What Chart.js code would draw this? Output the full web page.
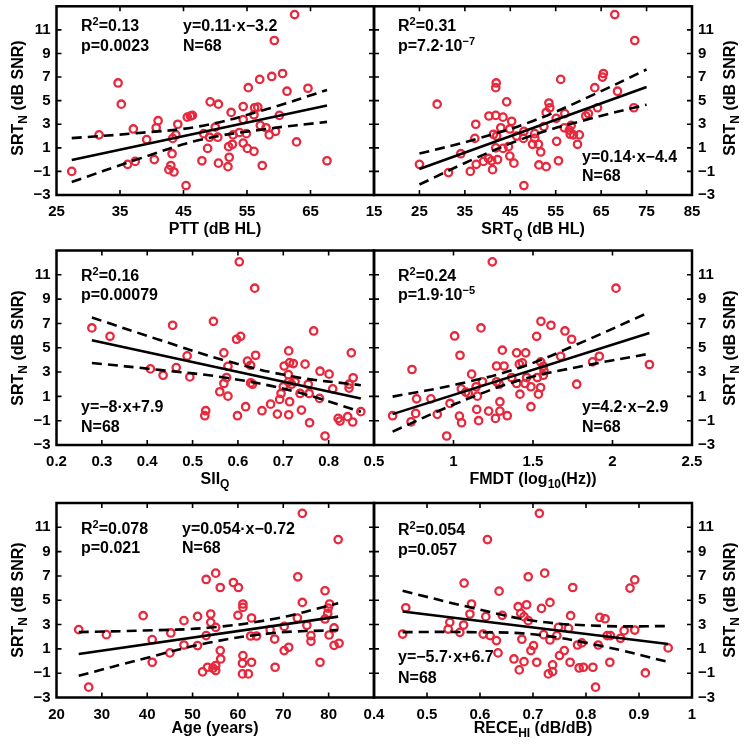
<!DOCTYPE html>
<html><head><meta charset="utf-8">
<script src="https://cdn.jsdelivr.net/npm/chart.js@4.4.0/dist/chart.umd.min.js"></script>
<style>
html,body{margin:0;padding:0;background:#fff;}
#wrap{position:relative;width:746px;height:749px;overflow:hidden;font-family:"Liberation Sans",Arial,Helvetica,sans-serif;font-weight:bold;color:#000;}
canvas{position:absolute;left:0;top:0;}
.t{position:absolute;white-space:nowrap;font-size:16px;line-height:16px;}
.ax{position:absolute;white-space:nowrap;font-size:16px;line-height:16px;transform:translate(-50%,0);}
.ay{position:absolute;white-space:nowrap;font-size:16px;line-height:16px;transform:translate(-50%,-50%) rotate(-90deg);}
sup{font-size:11px;position:relative;top:-6px;vertical-align:baseline;line-height:0;}
sub{font-size:12px;position:relative;top:4px;vertical-align:baseline;line-height:0;}
</style>
</head><body>
<div id="wrap">
<canvas id="c1" width="746" height="749"></canvas>
<canvas id="c2" width="746" height="749"></canvas>
<canvas id="c3" width="746" height="749"></canvas>
<canvas id="c4" width="746" height="749"></canvas>
<canvas id="c5" width="746" height="749"></canvas>
<canvas id="c6" width="746" height="749"></canvas>

<div class="t" style="left:81px;top:18.2px">R<sup>2</sup>=0.13</div>
<div class="t" style="left:81px;top:37.7px">p=0.0023</div>
<div class="t" style="left:183px;top:18.2px">y=0.11·x−3.2</div>
<div class="t" style="left:183px;top:37.7px">N=68</div>

<div class="t" style="left:398px;top:18.2px">R<sup>2</sup>=0.31</div>
<div class="t" style="left:398px;top:37.7px">p=7.2·10<sup>−7</sup></div>
<div class="t" style="left:582px;top:149.2px">y=0.14·x−4.4</div>
<div class="t" style="left:582px;top:168.2px">N=68</div>

<div class="t" style="left:81px;top:268.2px">R<sup>2</sup>=0.16</div>
<div class="t" style="left:81px;top:287.2px">p=0.00079</div>
<div class="t" style="left:81px;top:399.2px">y=−8·x+7.9</div>
<div class="t" style="left:81px;top:419.2px">N=68</div>

<div class="t" style="left:398px;top:268.2px">R<sup>2</sup>=0.24</div>
<div class="t" style="left:398px;top:287.2px">p=1.9·10<sup>−5</sup></div>
<div class="t" style="left:582px;top:399.2px">y=4.2·x−2.9</div>
<div class="t" style="left:582px;top:419.2px">N=68</div>

<div class="t" style="left:81px;top:521.2px">R<sup>2</sup>=0.078</div>
<div class="t" style="left:81px;top:540.2px">p=0.021</div>
<div class="t" style="left:182px;top:521.2px">y=0.054·x−0.72</div>
<div class="t" style="left:182px;top:540.2px">N=68</div>

<div class="t" style="left:398px;top:522.2px">R<sup>2</sup>=0.054</div>
<div class="t" style="left:398px;top:542.2px">p=0.057</div>
<div class="t" style="left:398px;top:649.2px">y=−5.7·x+6.7</div>
<div class="t" style="left:398px;top:670.2px">N=68</div>

<div class="ax" style="left:215px;top:220.7px">PTT (dB HL)</div>
<div class="ax" style="left:533px;top:220.7px">SRT<sub>Q</sub> (dB HL)</div>
<div class="ax" style="left:215px;top:470.7px">SII<sub>Q</sub></div>
<div class="ax" style="left:533px;top:470.7px">FMDT (log<sub>10</sub>(Hz))</div>
<div class="ax" style="left:215px;top:720.2px">Age (years)</div>
<div class="ax" style="left:533px;top:720.2px">RECE<sub>HI</sub> (dB/dB)</div>

<div class="ay" style="left:18px;top:98px">SRT<sub>N</sub> (dB SNR)</div>
<div class="ay" style="left:18px;top:348px">SRT<sub>N</sub> (dB SNR)</div>
<div class="ay" style="left:18px;top:600px">SRT<sub>N</sub> (dB SNR)</div>
<div class="ay" style="left:730px;top:98px">SRT<sub>N</sub> (dB SNR)</div>
<div class="ay" style="left:730px;top:348px">SRT<sub>N</sub> (dB SNR)</div>
<div class="ay" style="left:730px;top:600px">SRT<sub>N</sub> (dB SNR)</div>
</div>
<script>
// ---------- shared y axis ----------
const yTicks = [-3, -1, 1, 3, 5, 7, 9, 11, 13];
const yTickLabels = ['−3', '−1', '1', '3', '5', '7', '9', '11', ''];

// ---------- Panel 1: PTT ----------
const pttTicks = [25, 35, 45, 55, 65, 75];
const pttTickLabels = ['25', '35', '45', '55', '65', ''];
const pttX = [62.5,59.3,34.7,35.2,60.6,58.9,57.0,55.2,61.3,64.6,49.2,50.5,54.4,56.2,56.7,45.6,46.1,46.4,52.5,54.4,56.1,60.1,41.0,40.7,37.1,31.7,44.1,43.8,43.3,39.2,50.0,48.2,49.1,50.4,52.8,53.8,54.9,57.1,58.0,58.5,59.5,54.4,55.05,56.1,52.7,52.1,48.8,43.2,52.2,62.8,40.4,47.9,37.4,36.2,50.5,52.0,57.4,67.6,43.0,42.7,43.5,27.4,45.4];
const pttY = [12.3,10.1,6.5,4.7,7.3,7.05,6.8,6.1,5.8,6.05,4.9,4.7,4.5,4.4,4.45,3.6,3.7,3.75,4.0,3.4,3.8,3.75,3.3,2.7,2.6,2.1,3.0,2.1,1.8,1.7,2.75,2.2,1.9,1.9,2.1,2.3,2.2,2.9,2.7,2.1,2.4,1.4,0.95,0.7,1.3,1.1,0.95,0.5,0.2,1.5,0.0,-0.1,-0.15,-0.4,-0.3,-0.6,-0.5,-0.1,-0.5,-0.85,-1.05,-1.0,-2.2];
const pttFitX = [27.4, 67.6];
const pttFitY = [-0.03, 4.58];
const pttCiX = [27.4, 37.5, 47.5, 57.5, 67.6];
const pttCiUp = [1.82, 2.24, 2.82, 4.18, 5.9];
const pttCiLo = [-1.9, -0.02, 1.66, 2.56, 3.2];

// ---------- Panel 2: SRT_Q ----------
const srtqTicks = [15, 25, 35, 45, 55, 65, 75, 85];
const srtqTickLabels = ['15', '25', '35', '45', '55', '65', '75', '85'];
const srtqX = [68.0,72.4,28.9,41.9,41.8,56.1,65.5,65.3,63.6,68.6,72.2,64.2,62.2,61.6,44.2,53.5,53.7,52.9,57.0,55.1,40.3,41.8,43.4,37.4,42.9,45.3,44.9,41.3,42.0,37.2,46.4,48.0,47.9,50.4,50.4,49.9,51.2,51.7,52.4,55.2,56.9,58.4,58.0,58.2,58.9,60.2,59.8,34.1,44.6,43.4,41.8,44.9,45.8,40.2,39.1,40.9,42.2,37.5,36.2,41.1,31.4,25.0,51.3,52.9,55.6,48.0];
const srtqY = [12.3,10.1,4.7,6.5,6.1,6.8,7.3,7.0,6.1,5.8,4.4,4.4,3.9,3.7,4.9,4.8,4.4,4.0,3.9,3.5,3.7,3.75,3.6,3.0,2.7,3.25,2.6,2.15,2.0,1.8,2.0,2.4,1.8,2.2,1.8,1.3,1.3,0.65,2.8,1.55,2.7,2.9,2.5,2.15,2.1,2.1,1.3,0.5,1.1,0.95,1.0,0.3,-0.3,0.1,-0.15,-0.1,0.0,-0.4,-1.0,-0.85,-1.1,-0.4,-0.45,-0.6,-0.1,-2.2];
const srtqFitX = [25, 75];
const srtqFitY = [-0.8, 6.15];
const srtqCiX = [25, 37.5, 50, 62.5, 75];
const srtqCiUp = [0.51, 1.74, 3.28, 5.36, 7.64];
const srtqCiLo = [-2.11, 0.14, 2.08, 3.46, 4.66];

// ---------- Panel 3: SII_Q ----------
const siiTicks = [0.2, 0.3, 0.4, 0.5, 0.6, 0.7, 0.8, 0.9];
const siiTickLabels = ['0.2', '0.3', '0.4', '0.5', '0.6', '0.7', '0.8', ''];
const siiX = [0.603,0.637,0.278,0.318,0.456,0.546,0.597,0.606,0.767,0.712,0.850,0.569,0.488,0.621,0.639,0.628,0.578,0.407,0.464,0.435,0.494,0.575,0.569,0.628,0.632,0.702,0.714,0.722,0.748,0.781,0.801,0.711,0.712,0.718,0.726,0.755,0.700,0.809,0.845,0.854,0.845,0.560,0.578,0.695,0.737,0.757,0.780,0.692,0.672,0.714,0.617,0.529,0.527,0.599,0.653,0.687,0.712,0.740,0.821,0.825,0.842,0.853,0.871,0.758,0.792];
const siiY = [12.07,9.9,6.63,5.94,6.85,7.17,5.7,5.94,6.38,4.74,4.58,4.58,4.33,3.9,4.38,3.56,3.48,3.26,3.37,2.74,2.6,2.55,2.06,2.11,2.0,3.5,3.78,3.7,3.65,3.07,2.83,2.8,2.2,2.0,2.2,2.0,1.79,1.62,1.68,2.53,2.0,1.38,1.02,1.24,1.24,1.24,0.83,0.75,0.36,0.56,0.15,-0.18,-0.59,-0.59,-0.18,-0.46,-0.51,-0.13,-0.81,-1.03,-0.67,-1.11,-0.26,-1.17,-2.26];
const siiFitX = [0.278, 0.871];
const siiFitY = [5.62, 0.83];
const siiCiX = [0.278, 0.426, 0.574, 0.722, 0.871];
const siiCiUp = [7.49, 5.66, 3.93, 2.63, 1.92];
const siiCiLo = [3.75, 3.18, 2.53, 1.43, -0.26];

// ---------- Panel 4: FMDT ----------
const fmdtTicks = [0.5, 1, 1.5, 2, 2.5];
const fmdtTickLabels = ['0.5', '1', '1.5', '2', '2.5'];
const fmdtX = [1.244,2.022,0.739,1.007,1.041,1.173,1.307,1.397,1.454,1.550,1.613,1.523,1.701,1.743,1.674,1.875,1.917,2.232,1.775,1.114,1.271,1.318,1.414,1.433,1.548,1.565,1.569,1.565,1.366,1.460,1.527,1.397,1.450,1.487,1.548,1.271,1.288,1.182,1.142,1.049,1.077,1.094,1.150,1.418,1.534,1.487,1.292,0.768,0.858,0.978,1.146,1.221,1.292,1.338,1.264,1.158,1.037,1.051,0.898,0.762,0.617,0.733,0.957];
const fmdtY = [12.07,9.9,3.21,5.97,4.38,6.63,4.8,4.58,4.58,7.17,6.85,5.94,6.38,5.7,4.3,3.84,4.3,3.62,2.0,2.83,3.5,3.5,3.65,3.76,3.84,3.48,3.1,2.74,2.55,2.55,2.55,2.06,2.06,1.79,1.73,2.2,2.0,2.2,1.79,1.62,1.35,1.24,1.02,1.18,1.18,0.15,0.56,0.8,0.8,0.42,-0.07,-0.21,-0.21,-0.59,-0.81,-1.0,-0.62,-1.17,-0.48,-0.4,-0.59,-1.09,-2.26];
const fmdtFitX = [0.617, 2.232];
const fmdtFitY = [-0.46, 6.22];
const fmdtCiX = [0.617, 1.021, 1.425, 1.828, 2.232];
const fmdtCiUp = [0.98, 1.99, 3.40, 5.57, 7.93];
const fmdtCiLo = [-1.90, 0.43, 2.36, 3.53, 4.51];

// ---------- Panel 5: Age ----------
const ageTicks = [20, 30, 40, 50, 60, 70, 80, 90];
const ageTickLabels = ['20', '30', '40', '50', '60', '70', '80', ''];
const ageX = [74.2,82.1,24.9,27.1,31.0,39.1,41.1,41.1,45.2,45.0,48.1,48.1,51.1,51.1,53.0,55.1,56.1,59.0,60.1,54.0,54.0,55.1,53.0,56.1,56.2,55.1,54.5,53.3,52.2,55.1,61.1,61.1,60.0,63.0,62.8,64.1,61.1,61.0,61.0,62.3,63.0,67.1,68.1,70.2,70.2,71.2,68.2,73.2,74.2,73.1,75.2,76.1,76.1,79.2,80.2,79.9,79.8,79.2,81.2,80.1,81.2,82.3,78.1];
const ageY = [12.15,9.99,2.58,-2.15,2.17,3.73,1.76,-0.1,2.31,0.67,3.32,1.32,3.67,1.27,6.71,7.23,6.05,6.46,6.05,3.87,3.18,2.77,2.09,0.86,0.17,-0.37,-0.59,-0.51,-0.89,-0.78,4.69,4.41,3.76,3.54,2.06,2.06,0.45,-0.18,-1.06,-1.06,-0.1,2.58,1.81,2.85,0.86,1.13,-0.51,6.93,4.82,3.54,2.94,2.09,1.62,5.78,4.69,4.36,3.92,3.46,2.72,2.14,1.29,1.46,-0.1];
const ageFitX = [24.9, 82.1];
const ageFitY = [0.58, 3.65];
const ageCiX = [24.9, 39.2, 53.5, 67.8, 82.1];
const ageCiUp = [2.38, 2.51, 2.74, 3.46, 4.75];
const ageCiLo = [-1.22, 0.19, 1.50, 2.30, 2.55];

// ---------- Panel 6: RECE_HI ----------
const receTicks = [0.4, 0.5, 0.6, 0.7, 0.8, 0.9, 1.0];
const receTickLabels = ['0.4', '0.5', '0.6', '0.7', '0.8', '0.9', '1'];
const receX = [0.712,0.614,0.570,0.722,0.691,0.636,0.775,0.883,0.892,0.460,0.584,0.581,0.611,0.642,0.672,0.688,0.716,0.732,0.677,0.683,0.691,0.771,0.826,0.836,0.543,0.540,0.569,0.562,0.606,0.619,0.631,0.720,0.732,0.745,0.748,0.767,0.679,0.701,0.696,0.634,0.664,0.683,0.674,0.707,0.737,0.729,0.737,0.750,0.759,0.770,0.784,0.792,0.787,0.795,0.813,0.818,0.823,0.845,0.840,0.846,0.865,0.872,0.892,0.912,0.955,0.454];
const receY = [12.15,9.99,6.41,7.23,6.93,5.75,6.05,6.0,6.68,4.38,4.69,3.87,3.65,3.76,4.47,4.63,4.33,4.82,3.92,3.65,3.32,3.73,3.59,3.48,3.18,2.63,2.96,2.36,2.22,2.09,1.68,2.17,1.73,2.09,2.77,2.69,1.79,1.27,0.86,0.67,0.17,-0.05,-0.73,-0.1,-0.32,-1.06,-0.87,0.45,0.86,-0.1,1.32,1.49,-0.57,-0.51,-0.51,-2.15,1.32,-0.1,2.09,2.09,1.87,2.5,2.55,-0.98,1.08,2.22];
const receFitX = [0.454, 0.955];
const receFitY = [4.08, 1.40];
const receCiX = [0.454, 0.579, 0.704, 0.830, 0.955];
const receCiUp = [5.78, 4.44, 3.30, 2.89, 2.87];
const receCiLo = [2.38, 2.38, 2.18, 1.23, -0.07];

// ---------- drawing ----------
const RED = '#e8283c';
const FONT = {family: '"Liberation Sans", Arial, Helvetica, sans-serif', size: 15, weight: 'bold'};
const YW = 45, XH = 30, W = 746, H = 749;
const COLS = {left: [56.5, 374], right: [374, 692]};
const ROWS = [[1, 195], [250.5, 445], [503, 697.5]];

function zip(xs, ys) {
  const n = Math.min(xs.length, ys.length);
  const out = [];
  for (let i = 0; i < n; i++) out.push({x: xs[i], y: ys[i]});
  return out;
}

const framePlugin = {
  id: 'matlabFrame',
  afterDatasetsDraw(chart) {
    const {ctx, chartArea: a, scales} = chart;
    ctx.save();
    ctx.strokeStyle = '#000';
    ctx.lineWidth = 1.6;
    const tl = 5;
    ctx.beginPath();
    scales.x.ticks.forEach(t => {
      const px = scales.x.getPixelForValue(t.value);
      if (px <= a.left + 1 || px >= a.right - 1) return;
      ctx.moveTo(px, a.bottom); ctx.lineTo(px, a.bottom - tl);
      ctx.moveTo(px, a.top); ctx.lineTo(px, a.top + tl);
    });
    scales.y.ticks.forEach(t => {
      const py = scales.y.getPixelForValue(t.value);
      if (py <= a.top + 1 || py >= a.bottom - 1) return;
      ctx.moveTo(a.left, py); ctx.lineTo(a.left + tl, py);
      ctx.moveTo(a.right, py); ctx.lineTo(a.right - tl, py);
    });
    ctx.stroke();
    ctx.lineWidth = 2.5;
    ctx.strokeRect(a.left, a.top, a.right - a.left, a.bottom - a.top);
    ctx.restore();
  }
};

function panel(id, col, row, p) {
  const [pl, pr] = COLS[col];
  const [pt, pb] = ROWS[row];
  const isLeft = col === 'left';
  const padding = {
    top: pt,
    bottom: H - pb - XH,
    left: isLeft ? pl - YW : pl,
    right: isLeft ? W - pr : W - pr - YW
  };
  const lineDs = (xs, ys, dash) => ({
    data: zip(xs, ys), showLine: true, borderColor: '#000', borderWidth: 2.6,
    borderDash: dash, pointRadius: 0, tension: dash.length ? 0.4 : 0, order: 0, fill: false
  });
  new Chart(document.getElementById(id), {
    type: 'scatter',
    data: {datasets: [
      lineDs(p.fitX, p.fitY, []),
      lineDs(p.ciX, p.ciUp, [10, 6]),
      lineDs(p.ciX, p.ciLo, [10, 6]),
      {data: zip(p.x, p.y), pointRadius: 3.7, borderWidth: 2.3, borderColor: RED,
       backgroundColor: 'rgba(255,255,255,0)', pointStyle: 'circle', order: 1}
    ]},
    options: {
      responsive: false, animation: false, events: [],
      layout: {padding},
      plugins: {legend: {display: false}, tooltip: {enabled: false}},
      scales: {
        x: {
          type: 'linear', position: 'bottom', min: p.xTicks[0], max: p.xTicks[p.xTicks.length - 1],
          grid: {display: false, drawTicks: false}, border: {display: false},
          afterBuildTicks: s => { s.ticks = p.xTicks.map(v => ({value: v})); },
          ticks: {callback: (v, i) => p.xLabels[i], font: FONT, color: '#000', padding: 8,
                  maxRotation: 0, autoSkip: false},
          afterFit: s => { s.height = XH; s.paddingLeft = 0; s.paddingRight = 0; }
        },
        y: {
          type: 'linear', position: isLeft ? 'left' : 'right', min: yTicks[0], max: yTicks[yTicks.length - 1],
          grid: {display: false, drawTicks: false}, border: {display: false},
          afterBuildTicks: s => { s.ticks = yTicks.map(v => ({value: v})); },
          ticks: {callback: (v, i) => yTickLabels[i], font: FONT, color: '#000', padding: 6, autoSkip: false},
          afterFit: s => { s.width = YW; s.paddingTop = 0; s.paddingBottom = 0; }
        }
      }
    },
    plugins: [framePlugin]
  });
}

panel('c1', 'left', 0, {x: pttX, y: pttY, fitX: pttFitX, fitY: pttFitY, ciX: pttCiX, ciUp: pttCiUp, ciLo: pttCiLo, xTicks: pttTicks, xLabels: pttTickLabels});
panel('c2', 'right', 0, {x: srtqX, y: srtqY, fitX: srtqFitX, fitY: srtqFitY, ciX: srtqCiX, ciUp: srtqCiUp, ciLo: srtqCiLo, xTicks: srtqTicks, xLabels: srtqTickLabels});
panel('c3', 'left', 1, {x: siiX, y: siiY, fitX: siiFitX, fitY: siiFitY, ciX: siiCiX, ciUp: siiCiUp, ciLo: siiCiLo, xTicks: siiTicks, xLabels: siiTickLabels});
panel('c4', 'right', 1, {x: fmdtX, y: fmdtY, fitX: fmdtFitX, fitY: fmdtFitY, ciX: fmdtCiX, ciUp: fmdtCiUp, ciLo: fmdtCiLo, xTicks: fmdtTicks, xLabels: fmdtTickLabels});
panel('c5', 'left', 2, {x: ageX, y: ageY, fitX: ageFitX, fitY: ageFitY, ciX: ageCiX, ciUp: ageCiUp, ciLo: ageCiLo, xTicks: ageTicks, xLabels: ageTickLabels});
panel('c6', 'right', 2, {x: receX, y: receY, fitX: receFitX, fitY: receFitY, ciX: receCiX, ciUp: receCiUp, ciLo: receCiLo, xTicks: receTicks, xLabels: receTickLabels});
</script>
</body></html>
